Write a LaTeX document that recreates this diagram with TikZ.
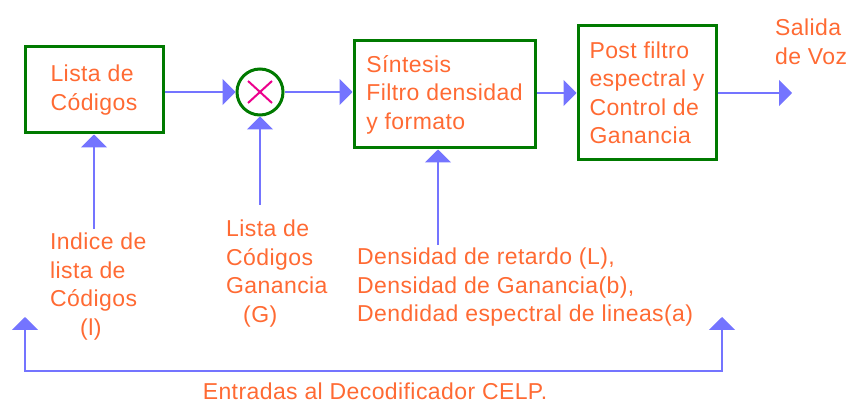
\documentclass[tikz,border=0pt]{standalone}
\usepackage{fontspec}
\setmainfont{Liberation Sans}[LetterSpace=1.8]
\usetikzlibrary{arrows.meta}

\definecolor{celporange}{HTML}{FF6A33}
\definecolor{celpblue}{HTML}{7474FF}
\definecolor{celpgreen}{HTML}{007A00}

\begin{document}
\begin{tikzpicture}[
    x=1pt, y=-1pt,
    block/.style={rectangle, draw=celpgreen, line width=3pt, align=left, text=celporange, inner sep=0pt, font=\fontsize{23}{28.5}\selectfont},
    mixer/.style={circle, draw=celpgreen, line width=3pt, minimum size=46pt, inner sep=0pt},
    cross/.style={draw=magenta, line width=2pt},
    lbl/.style={align=left, text=celporange, inner sep=0pt, font=\fontsize{23}{28.5}\selectfont},
    arrow/.style={draw=celpblue, line width=2pt, -{Triangle[length=13pt, width=26pt]}},
    feed/.style={draw=celpblue, line width=2pt, {Triangle[length=13pt, width=26pt]}-{Triangle[length=13pt, width=26pt]}}
]
\useasboundingbox (0,0) rectangle (846,403);

% Components
\node[block, minimum width=138pt, minimum height=86pt] (codebook) at (94,90) {Lista de\\Códigos};
\node[mixer] (mult) at (260,92) {};
\node[block, minimum width=181pt, minimum height=107pt] (synth) at (444.5,94.5) {Síntesis\\Filtro densidad\\y formato};
\node[block, minimum width=138pt, minimum height=134pt] (post) at (647,93) {Post filtro\\espectral y\\Control de\\Ganancia};
\draw[cross] (mult.center) ++(-12,-11) -- ++(24,22);
\draw[cross] (mult.center) ++(12,-11) -- ++(-24,22);

% Labels
\node[lbl, anchor=west] (voice) at (775,42) {Salida\\de Voz};
\node[lbl, anchor=north west] (index) at (50,233) {Indice de\\lista de\\Códigos\\\hspace*{30pt}(l)};
\node[lbl, anchor=north west] (gain) at (226,220) {Lista de\\Códigos\\Ganancia\\\hspace*{17pt}(G)};
\node[lbl, anchor=north west] (params) at (357,248) {Densidad de retardo (L),\\Densidad de Ganancia(b),\\Dendidad espectral de lineas(a)};
\node[lbl, anchor=base] (inputs) at (375,399) {Entradas al Decodificador CELP.};

\coordinate (speech) at (792,93);
\coordinate (fbleft) at (25,317);
\coordinate (fbright) at (722,317);

% Connectors
\draw[arrow] (codebook.east |- mult) -- (mult.west);
\draw[arrow] (mult.east) -- (synth.west |- mult);
\draw[arrow] (synth.east |- post) -- (post.west);
\draw[arrow] (post.east) -- (speech);
\draw[arrow] ([yshift=4pt]index.north -| codebook.south) -- (codebook.south);
\draw[arrow] ([yshift=15pt]gain.north -| mult.south) -- (mult.south);
\draw[arrow] ([yshift=3pt]params.north -| 438,0) -- (synth.south -| 438,0);
\draw[feed] (fbleft) |- ([yshift=11pt]inputs.north) -| (fbright);

\end{tikzpicture}
\end{document}
